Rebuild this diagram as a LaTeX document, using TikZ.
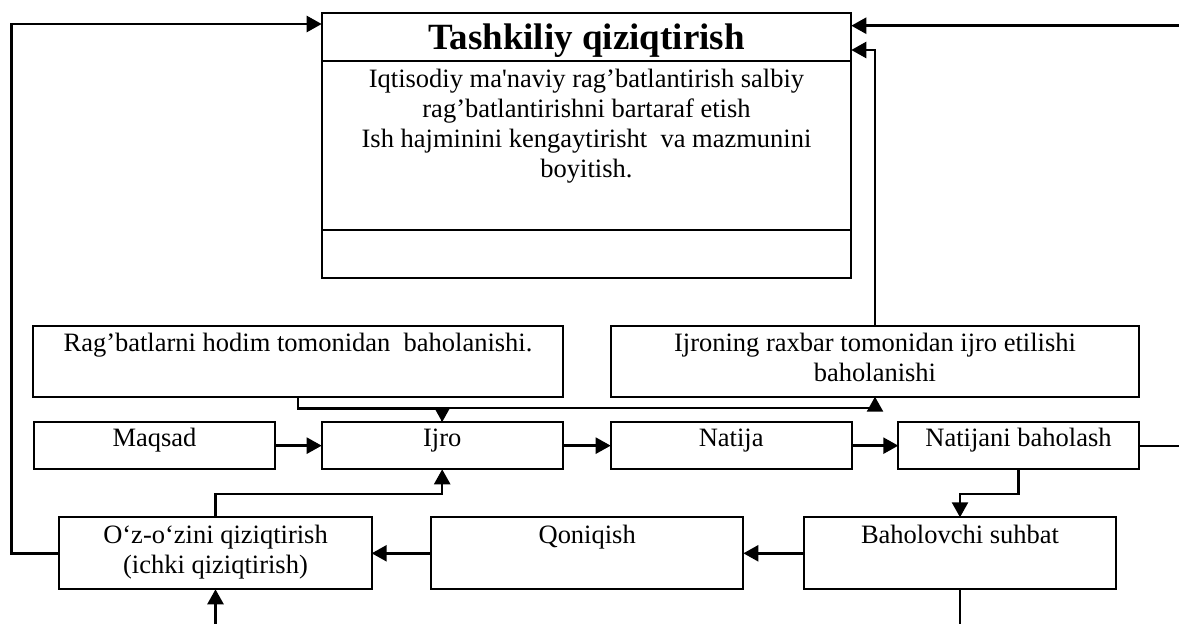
\documentclass[tikz,border=0pt]{standalone}
\usepackage{fontspec}
\setmainfont{Liberation Serif}
\usetikzlibrary{arrows.meta}

% centred block of lines whose baseline is that of its first line
\newcommand{\txtlines}[1]{\begin{tabular}[t]{@{}c@{}}#1\end{tabular}}

\begin{document}
\begin{tikzpicture}[
  x=1pt, y=-1pt,
  box/.style={draw, line width=2pt, inner sep=0pt, outer sep=0pt},
  rowbox/.style={box, minimum width=241pt, minimum height=47.3pt},
  widebox/.style={box, minimum width=529.3pt, minimum height=71pt},
  lowbox/.style={box, minimum width=312.4pt, minimum height=72pt},
  txt/.style={anchor=base, inner sep=0pt, font=\fontsize{26.5}{30}\selectfont},
  title/.style={anchor=base, inner sep=0pt, font=\fontsize{37}{40}\selectfont\bfseries},
  arr/.style={line width=2.5pt, -{Triangle[length=15pt, width=16pt]}},
  plain/.style={line width=2pt},
]
\useasboundingbox (0,0) rectangle (1179,624);

% main block with its two inner rules
\node[box, minimum width=529.6pt, minimum height=264.4pt] (tash) at (586.5,145.5) {};
\draw[line width=2pt] ([yshift=-47.7pt]tash.north west) -- ([yshift=-47.7pt]tash.north east);
\draw[line width=2pt] ([yshift=-216.7pt]tash.north west) -- ([yshift=-216.7pt]tash.north east);
\node[title] (tash-t) at ([yshift=-35.7pt]tash.north) {Tashkiliy qiziqtirish};
\node[txt] (tash-b) at ([yshift=-74pt]tash.north) {\txtlines{Iqtisodiy ma\textquotesingle naviy rag’batlantirish salbiy\\
  rag’batlantirishni bartaraf etish\\
  Ish hajminini kengaytirisht\ \ va mazmunini\\
  boyitish.}};

% assessment boxes
\node[widebox] (rag) at (298,361.2) {};
\node[txt] (rag-t) at ([yshift=-26pt]rag.north) {Rag’batlarni hodim tomonidan\ \ baholanishi.};
\node[widebox, minimum width=528.6pt] (ijr) at (875,361.2) {};
\node[txt] (ijr-t) at ([yshift=-26pt]ijr.north) {\txtlines{Ijroning raxbar tomonidan ijro etilishi\\ baholanishi}};

% main row
\node[rowbox] (maq) at (154.5,445.65) {};
\node[txt] (maq-t) at ([yshift=-24.7pt]maq.north) {Maqsad};
\node[rowbox] (ijro) at (442.2,445.65) {};
\node[txt] (ijro-t) at ([yshift=-24.7pt]ijro.north) {Ijro};
\node[rowbox] (nat) at (731.2,445.65) {};
\node[txt] (nat-t) at ([yshift=-24.7pt]nat.north) {Natija};
\node[rowbox, minimum width=240.4pt] (nbh) at (1018.5,445.65) {};
\node[txt] (nbh-t) at ([yshift=-24.7pt]nbh.north) {Natijani baholash};

% lower row
\node[lowbox] (oz) at (215.5,553.3) {};
\node[txt] (oz-t) at ([yshift=-26pt]oz.north) {\txtlines{O‘z-o‘zini qiziqtirish\\ (ichki qiziqtirish)}};
\node[lowbox] (qon) at (587.2,553.3) {};
\node[txt] (qon-t) at ([yshift=-26pt]qon.north) {Qoniqish};
\node[lowbox] (bah) at (960,553.3) {};
\node[txt] (bah-t) at ([yshift=-26pt]bah.north) {Baholovchi suhbat};

% free ends at the picture's edges
\coordinate (lft) at (11.7,24);
\coordinate (rin) at (1179,25.7);
\coordinate (rout) at (1179,445.65);
\coordinate (bin) at (215.5,624);
\coordinate (bout) at (960,624);

% connectors
\draw[arr] (oz.west) -| (lft) -- ([yshift=-10.7pt]tash.north west);
\draw[arr] (rin) -- ([yshift=-12.4pt]tash.north east);
\draw[arr] (ijr.north) |- ([yshift=-36.7pt]tash.north east);
\draw[arr] (rag.south) -- ++(0,11.8) -| (ijro.north);
\draw[arr] (ijro.north) -- ++(0,-14) -| (ijr.south);
\draw[arr] (maq.east) -- (ijro.west);
\draw[arr] (ijro.east) -- (nat.west);
\draw[arr] (nat.east) -- (nbh.west);
\draw[plain] (nbh.east) -- (rout);
\draw[arr] (nbh.south) -- ++(0,24.7) -| (bah.north);
\draw[arr] (bah.west) -- (qon.east);
\draw[arr] (qon.west) -- (oz.east);
\draw[arr] (oz.north) -- ++(0,-23.3) -| (ijro.south);
\draw[arr] (bin) -- (oz.south);
\draw[plain] (bah.south) -- (bout);
\end{tikzpicture}
\end{document}
